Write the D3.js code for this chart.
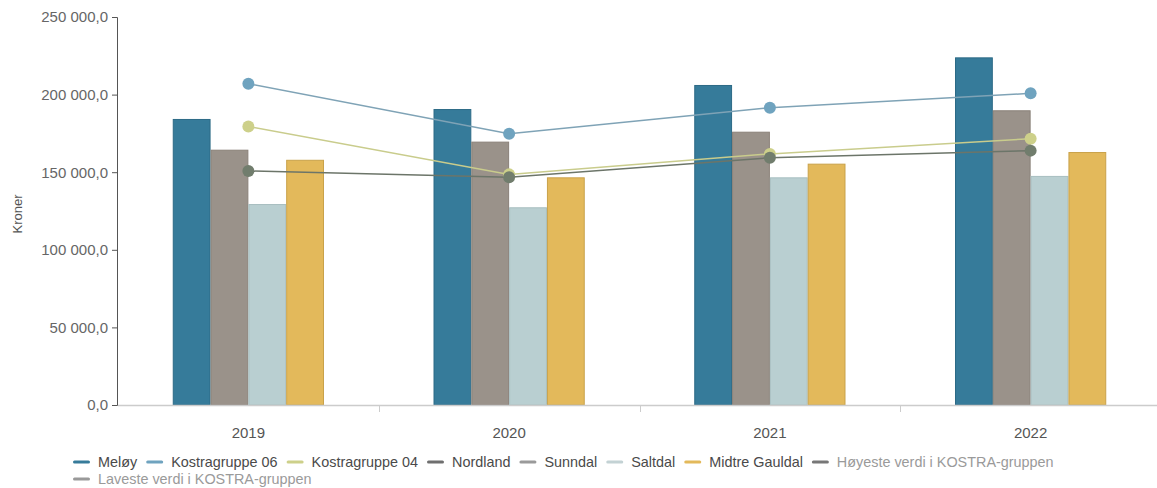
<!DOCTYPE html>
<html>
<head>
<meta charset="utf-8">
<script src="https://cdn.jsdelivr.net/npm/d3@7"></script>
<style>
  html, body { margin: 0; padding: 0; background: #fff; }
  svg { display: block; font-family: "Liberation Sans", Arial, sans-serif; }
</style>
</head>
<body>
<svg id="chart" width="1157" height="488"></svg>
<script>
const years = ["2019", "2020", "2021", "2022"];
const barSeries = ["Meløy", "Sunndal", "Saltdal", "Midtre Gauldal"];
const meloy = [184300, 190700, 206200, 224000];
const sunndal = [164500, 169700, 176100, 189900];
const saltdal = [129500, 127400, 146700, 147600];
const midtreGauldal = [158000, 146700, 155500, 163000];
const kostra06 = [207000, 174800, 191600, 200800];
const kostra04 = [179400, 148600, 161800, 171600];
const nordland = [150800, 146800, 159300, 163900];
const yTicks = [0, 50000, 100000, 150000, 200000, 250000];
const legendItems = ["Meløy", "Kostragruppe 06", "Kostragruppe 04", "Nordland", "Sunndal", "Saltdal", "Midtre Gauldal", "Høyeste verdi i KOSTRA-gruppen", "Laveste verdi i KOSTRA-gruppen"];

const barData = [meloy, sunndal, saltdal, midtreGauldal];
const barColors = ["#367b9a", "#9a928a", "#b9cfd1", "#e3b95b"];
const barStroke = ["#2c6a86", "#8a8178", "#a8bfc1", "#c9a24a"];
const lineData = [
  { name: "Kostragruppe 06", values: kostra06, color: "#6fa3bf", line: "#7fa3b6" },
  { name: "Kostragruppe 04", values: kostra04, color: "#cdd08a", line: "#c9cc8c" },
  { name: "Nordland", values: nordland, color: "#717d6d", line: "#6c7569" }
];
const legendColors = ["#367b9a", "#6fa3bf", "#cdd08a", "#6f6f6f", "#9a9a9a", "#c3d2d4", "#e3b95b", "#777", "#999"];
const legendTextColors = ["#4a4a4a", "#4a4a4a", "#4a4a4a", "#4a4a4a", "#4a4a4a", "#4a4a4a", "#4a4a4a", "#9a9a9a", "#9a9a9a"];

const svg = d3.select("#chart");
const margin = { left: 118, right: 1161, top: 17, bottom: 405 };

const x = d3.scaleBand().domain(years).range([margin.left, margin.right]).paddingInner(0).paddingOuter(0);
const y = d3.scaleLinear().domain([0, 250000]).range([margin.bottom, margin.top]);
const groupWidth = x.bandwidth() * 0.58;
const xs = d3.scaleBand().domain(barSeries).range([0, groupWidth]).padding(0);

// Bars
barSeries.forEach((s, si) => {
  svg.append("g").selectAll("rect").data(years).join("rect")
    .attr("x", d => x(d) + (x.bandwidth() - groupWidth) / 2 + xs(s) + 0.5)
    .attr("y", (d, i) => y(barData[si][i]) + 0.5)
    .attr("width", xs.bandwidth() - 1)
    .attr("height", (d, i) => y(0) - y(barData[si][i]) - 0.5)
    .attr("fill", barColors[si])
    .attr("stroke", barStroke[si])
    .attr("stroke-width", 1);
});

// Lines
const line = d3.line().x((d, i) => x(years[i]) + x.bandwidth() / 2).y(d => y(d));
lineData.forEach(ld => {
  svg.append("path").datum(ld.values)
    .attr("d", line)
    .attr("fill", "none")
    .attr("stroke", ld.line)
    .attr("stroke-width", 1.5);
});
lineData.forEach(ld => {
  svg.append("g").selectAll("circle").data(ld.values).join("circle")
    .attr("cx", (d, i) => x(years[i]) + x.bandwidth() / 2)
    .attr("cy", d => y(d))
    .attr("r", 6)
    .attr("fill", ld.color);
});

// Y axis
const yAxis = d3.axisLeft(y).tickValues(yTicks).tickSize(5).tickPadding(4)
  .tickFormat(d => d3.format(",.1f")(d).replace(/,/g, " ").replace(".", ","));
const gy = svg.append("g").attr("transform", `translate(${margin.left - 1},0)`).call(yAxis);
gy.select(".domain").attr("stroke", "#555").attr("stroke-width", 1);
gy.selectAll(".tick line").attr("stroke", "#555");
gy.selectAll(".tick text").attr("fill", "#666").style("font-size", "15px");

// X axis
const xAxis = d3.axisBottom(x).tickSize(0).tickPadding(20);
const gx = svg.append("g").attr("transform", `translate(0,${margin.bottom + 0.5})`).call(xAxis);
gx.select(".domain").remove();
gx.selectAll(".tick text").attr("fill", "#555").attr("dy", null).attr("y", 32).style("font-size", "15px");
svg.append("line").attr("x1", margin.left).attr("x2", 1157)
  .attr("y1", margin.bottom + 0.5).attr("y2", margin.bottom + 0.5)
  .attr("stroke", "#ccc").attr("stroke-width", 1.5);
svg.append("g").selectAll("line").data(years.slice(1)).join("line")
  .attr("x1", d => Math.round(x(d)) + 0.5).attr("x2", d => Math.round(x(d)) + 0.5)
  .attr("y1", margin.bottom).attr("y2", margin.bottom + 7)
  .attr("stroke", "#ccc");

// Y title
svg.append("text")
  .attr("transform", "translate(22,214) rotate(-90)")
  .attr("text-anchor", "middle")
  .attr("fill", "#555")
  .style("font-size", "13px")
  .text("Kroner");

// Legend
const legend = svg.append("g");
let lx = 73, ly = 467;
legendItems.forEach((name, i) => {
  if (i === 8) { lx = 73; ly = 484; }
  const g = legend.append("g").attr("transform", `translate(${lx},${ly})`);
  g.append("rect").attr("x", 0).attr("y", -6.5).attr("width", 17).attr("height", 3).attr("rx", 1.5).attr("fill", legendColors[i]);
  const t = g.append("text").attr("x", 25).attr("y", 0)
    .attr("fill", legendTextColors[i]).style("font-size", "14.4px").text(name);
  lx += 25 + t.node().getComputedTextLength() + 9;
});
</script>
</body>
</html>
